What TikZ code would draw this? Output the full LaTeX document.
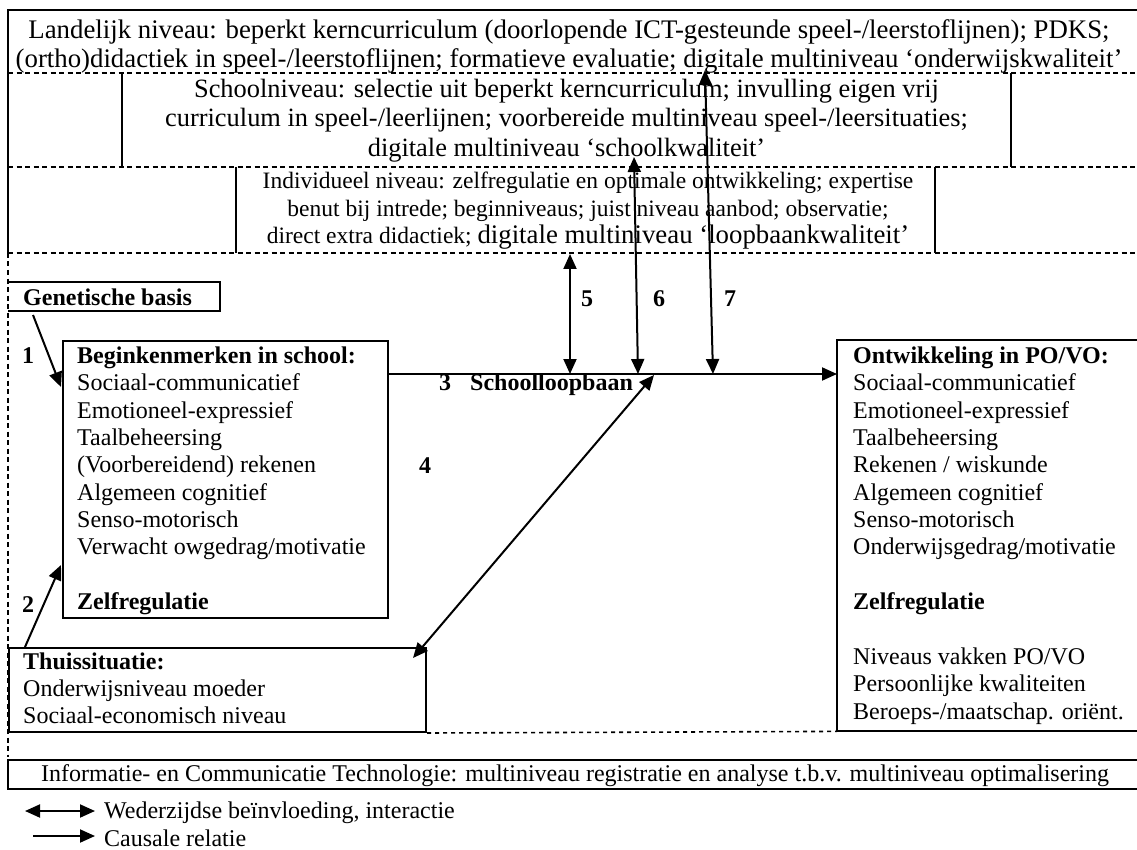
\documentclass[tikz,border=0pt]{standalone}
\usepackage{fontspec}
\setmainfont{Liberation Serif}
\usetikzlibrary{arrows.meta}
\begin{document}
\begin{tikzpicture}[x=1pt,y=-1pt,
  >={Triangle[length=15pt,width=13pt]},
  frame/.style={line width=2pt},
  dl/.style={line width=2pt,dash pattern=on 5pt off 3.5pt},
  finedl/.style={line width=1.6pt,dash pattern=on 4pt off 4pt},
  arr/.style={line width=2pt,->},
  darr/.style={line width=2pt,<->},
  body/.style={inner sep=0pt,font=\fontsize{24}{27.35}\selectfont,align=left,anchor=north west},
  lvl/.style={inner sep=0pt,align=center,anchor=north},
  num/.style={inner sep=0pt,font=\fontsize{24}{28}\selectfont\bfseries,anchor=base},
  box/.style={draw,line width=2pt,inner sep=0pt,anchor=north west}
]
\useasboundingbox (0,0) rectangle (1137,850);

% ---------- top frame with three levels ----------
\draw[frame] (1137,10) -- (8,10) -- (8,253);
\draw[dl] (8,73) -- (1137,73);
\draw[dl] (8,167) -- (1137,167);
\draw[dl] (8,253) -- (1137,253);
\draw[frame] (122,73) -- (122,167);
\draw[frame] (1011,73) -- (1011,167);
\draw[frame] (236,167) -- (236,253);
\draw[frame] (935,167) -- (935,253);
\draw[dl] (8,253) -- (8,757);

\node[lvl,font=\fontsize{26.8}{28.3}\selectfont] (landelijk) at (569,18.9)
  {\strut Landelijk niveau: beperkt kerncurriculum (doorlopende ICT-gesteunde speel-/leerstoflijnen); PDKS;\\
   (ortho)didactiek in speel-/leerstoflijnen; formatieve evaluatie; digitale multiniveau ‘onderwijskwaliteit’};
\node[lvl,font=\fontsize{26.4}{29.5}\selectfont] (school) at (566.5,76.5)
  {\strut Schoolniveau: selectie uit beperkt kerncurriculum; invulling eigen vrij\\
   curriculum in speel-/leerlijnen; voorbereide multiniveau speel-/leersituaties;\\
   digitale multiniveau ‘schoolkwaliteit’};
\node[lvl,font=\fontsize{23.5}{27.6}\selectfont] (indiv) at (588,168.98)
  {\strut Individueel niveau: zelfregulatie en optimale ontwikkeling; expertise\\
   benut bij intrede; beginniveaus; juist niveau aanbod; observatie;\\
   direct extra didactiek; {\fontsize{26.8}{27.6}\selectfont digitale multiniveau ‘loopbaankwaliteit’}};

% ---------- genetische basis ----------
\draw[frame] (8,282) -- (220,282) -- (220,311) -- (8,311);
\node[inner sep=0pt,anchor=base west,font=\fontsize{24}{28}\selectfont\bfseries] (gen) at (23,305) {Genetische basis};

% ---------- beginkenmerken ----------
\node[box,minimum width=325pt,minimum height=277pt] (begin) at (62,340) {};
\node[body] (begintxt) at (77,344.1)
  {\strut\textbf{Beginkenmerken in school:}\\
   Sociaal-communicatief\\
   Emotioneel-expressief\\
   Taalbeheersing\\
   (Voorbereidend) rekenen\\
   Algemeen cognitief\\
   Senso-motorisch\\
   Verwacht owgedrag/motivatie\\
   \strut\\
   \textbf{Zelfregulatie}};

% ---------- thuissituatie ----------
\node[box,minimum width=417pt,minimum height=84pt] (thuis) at (8,647) {};
\node[body,font=\fontsize{24}{27}\selectfont] (thuistxt) at (23,650.4)
  {\strut\textbf{Thuissituatie:}\\
   Onderwijsniveau moeder\\
   Sociaal-economisch niveau};

% ---------- ontwikkeling ----------
\draw[frame] (1137,340) -- (837,340) -- (837,731) -- (1137,731);
\node[inner sep=0pt,minimum width=300pt,minimum height=391pt,anchor=north west] (ontw) at (837,340) {};
\node[body] (ontwtxt) at (853,344.1)
  {\strut\textbf{Ontwikkeling in PO/VO:}\\
   Sociaal-communicatief\\
   Emotioneel-expressief\\
   Taalbeheersing\\
   Rekenen / wiskunde\\
   Algemeen cognitief\\
   Senso-motorisch\\
   Onderwijsgedrag/motivatie\\
   \strut\\
   \textbf{Zelfregulatie}\\
   \strut\\
   Niveaus vakken PO/VO\\
   Persoonlijke kwaliteiten\\
   Beroeps-/maatschap. oriënt.};
\draw[finedl] (thuis.south east) -- (ontw.south west);

% ---------- ICT ----------
\draw[frame] (1137,760) -- (8,760) -- (8,789) -- (1137,789);
\node[inner sep=0pt,anchor=base,font=\fontsize{24}{28}\selectfont] (ict) at (575,781.7)
  {Informatie- en Communicatie Technologie: multiniveau registratie en analyse t.b.v. multiniveau optimalisering};

% ---------- connectors ----------
\coordinate (g1) at (33,315);
\coordinate (b1) at (61,387);
\coordinate (t2) at (25,647);
\coordinate (b2) at (61,565);
\coordinate (s3a) at (387,374);
\coordinate (s3b) at (837,374);
\coordinate (p4a) at (413,658);
\coordinate (p4b) at (654,375);
\coordinate (p5a) at (570,254);
\coordinate (p5b) at (570,374);
\coordinate (p6a) at (634,157);
\coordinate (p6b) at (638,374);
\coordinate (p7a) at (705,70);
\coordinate (p7b) at (713,374);

\draw[arr] (g1) -- (b1);
\draw[arr] (t2) -- (b2);
\draw[arr] (s3a) -- (s3b);
\draw[darr] (p4a) -- (p4b);
\draw[darr] (p5a) -- (p5b);
\draw[darr] (p6a) -- (p6b);
\draw[darr] (p7a) -- (p7b);

\node[num] (n1) at (28,363) {1};
\node[num] (n2) at (28,612) {2};
\node[num] (n3) at (445,390) {3};
\node[inner sep=0pt,anchor=base west,font=\fontsize{24}{28}\selectfont\bfseries] (sl) at (470,390) {Schoolloopbaan};
\node[num] (n4) at (425,473) {4};
\node[num] (n5) at (587,306) {5};
\node[num] (n6) at (659,306) {6};
\node[num] (n7) at (730,306) {7};

% ---------- legend ----------
\coordinate (la) at (25,811);
\coordinate (lb) at (95,811);
\coordinate (lc) at (33,836);
\coordinate (ld) at (95,836);
\draw[darr] (la) -- (lb);
\draw[arr] (lc) -- (ld);
\node[inner sep=0pt,anchor=base west,font=\fontsize{24}{28}\selectfont] (leg1) at (104,818) {Wederzijdse beïnvloeding, interactie};
\node[inner sep=0pt,anchor=base west,font=\fontsize{24}{28}\selectfont] (leg2) at (104,846) {Causale relatie};
\end{tikzpicture}
\end{document}
